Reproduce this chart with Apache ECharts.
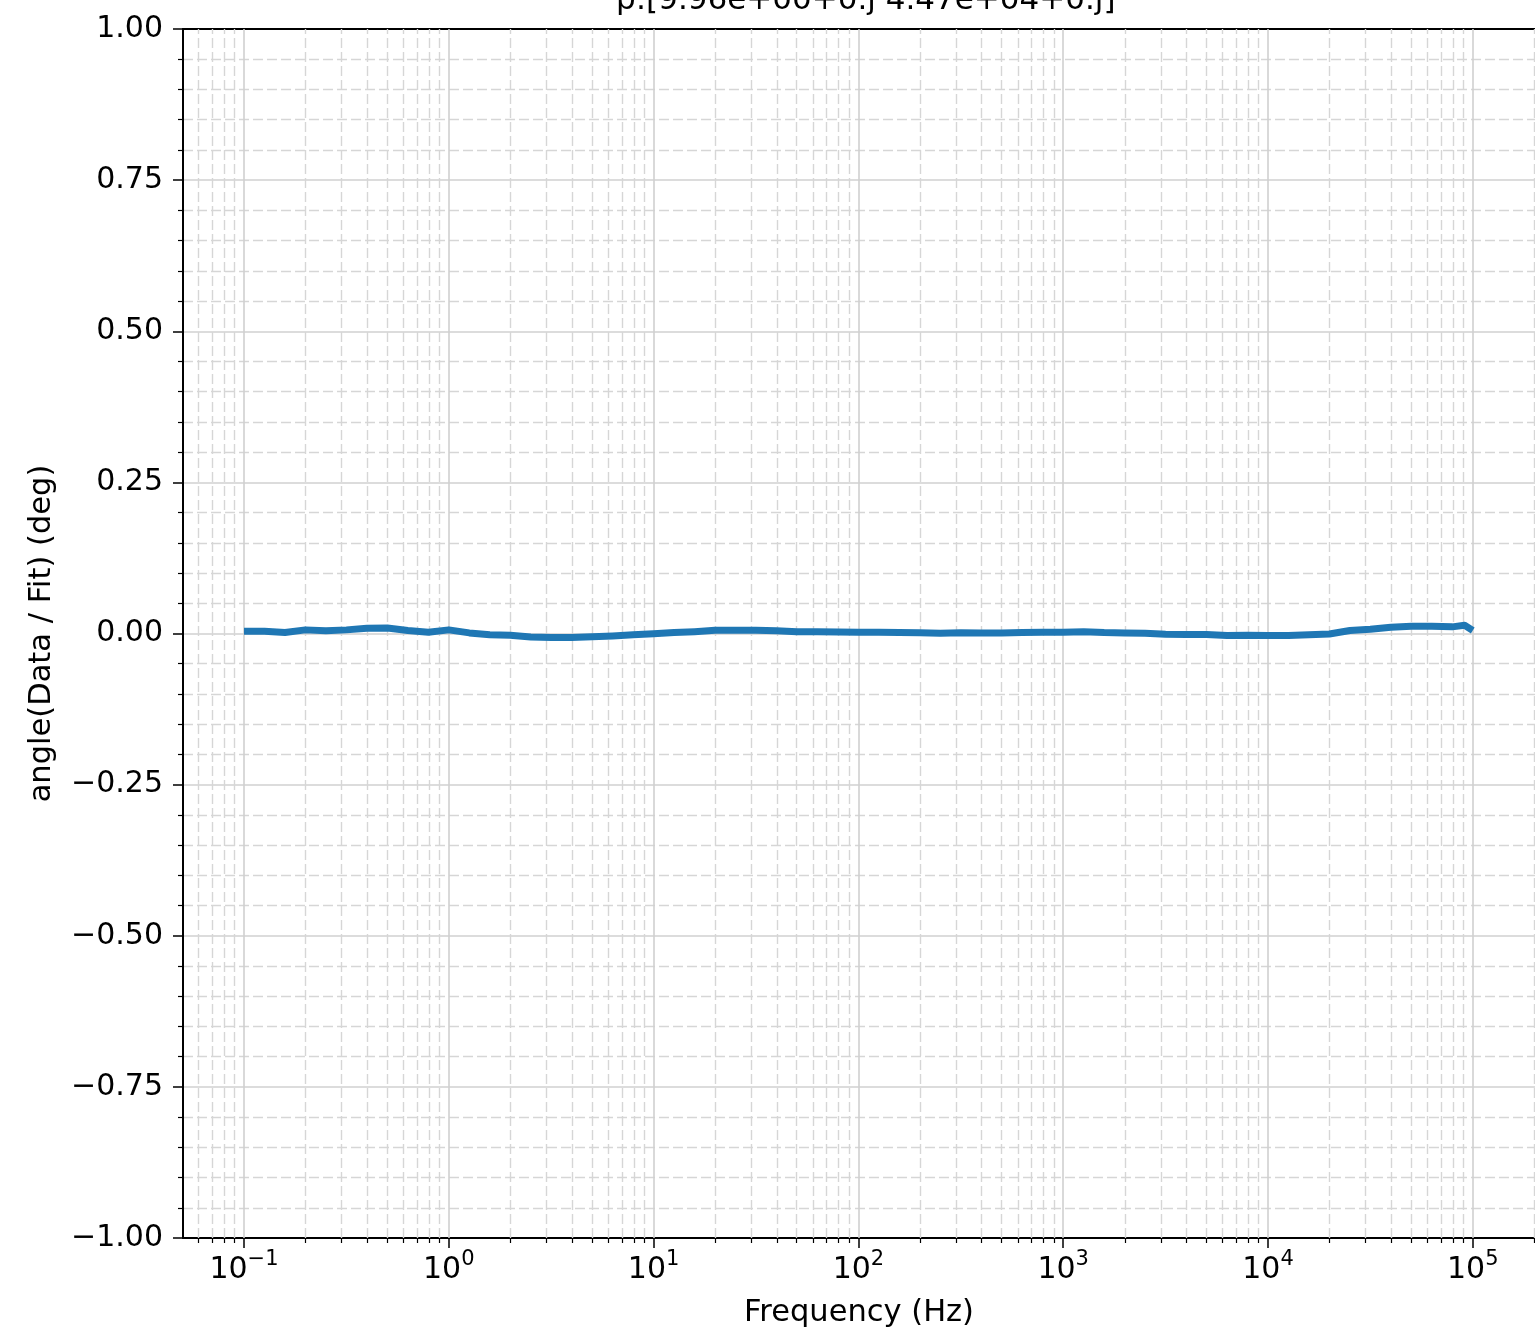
<!DOCTYPE html>
<html>
<head>
<meta charset="utf-8">
<script src="https://cdn.jsdelivr.net/npm/echarts@6/dist/echarts.min.js"></script>
<style>
html,body{margin:0;padding:0;background:#fff;}
#chart{width:1535px;height:1338px;}
</style>
</head>
<body>
<div id="chart"></div>
<script>
// ---- data ----
const freqs = [
  0.1, 0.1259, 0.1585, 0.1995, 0.2512, 0.3162, 0.3981, 0.5012, 0.631, 0.7943,
  1, 1.259, 1.585, 1.995, 2.512, 3.162, 3.981, 5.012, 6.31, 7.943,
  10, 12.59, 15.85, 19.95, 25.12, 31.62, 39.81, 50.12, 63.1, 79.43,
  100, 125.9, 158.5, 199.5, 251.2, 316.2, 398.1, 501.2, 631, 794.3,
  1000, 1259, 1585, 1995, 2512, 3162, 3981, 5012, 6310, 7943,
  10000, 12590, 15850, 19950, 25120, 31620, 39810, 50120, 63100, 79430,
  91200, 100000
];
const angleDeg = [
  0.0036, 0.0036, 0.0018, 0.006, 0.0045, 0.006, 0.0085, 0.009, 0.005, 0.002,
  0.006, 0.001, -0.002, -0.003, -0.0058, -0.0065, -0.0068, -0.0055, -0.004, -0.0022,
  -0.0003, 0.0015, 0.003, 0.0052, 0.0052, 0.0052, 0.0045, 0.003, 0.003, 0.0025,
  0.002, 0.0019, 0.0018, 0.0012, 0.0004, 0.0013, 0.0008, 0.001, 0.0015, 0.0019,
  0.0022, 0.003, 0.0015, 0.001, 0.0004, -0.0012, -0.0015, -0.0018, -0.0035, -0.003,
  -0.0035, -0.0032, -0.002, -0.0008, 0.005, 0.007, 0.0105, 0.012, 0.0119, 0.011,
  0.0135, 0.005
];
const xMajorTicks = [0.1, 1, 10, 100, 1000, 10000, 100000];
const xMinorTicks = [
  0.06, 0.07, 0.08, 0.09,
  0.2, 0.3, 0.4, 0.5, 0.6, 0.7, 0.8, 0.9,
  2, 3, 4, 5, 6, 7, 8, 9,
  20, 30, 40, 50, 60, 70, 80, 90,
  200, 300, 400, 500, 600, 700, 800, 900,
  2000, 3000, 4000, 5000, 6000, 7000, 8000, 9000,
  20000, 30000, 40000, 50000, 60000, 70000, 80000, 90000,
  200000
];
const xExponents = {0.1: '−1', 1: '0', 10: '1', 100: '2', 1000: '3', 10000: '4', 100000: '5'};
const titleText = 'p:[9.96e+00+0.j 4.47e+04+0.j]';
const xName = 'Frequency (Hz)';
const yName = 'angle(Data / Fit) (deg)';
const xMin = 0.05036, xMax = 201300;

// ---- chart ----
const FONT = 'DejaVu Sans';
const chart = echarts.init(document.getElementById('chart'), null, {renderer: 'canvas'});
const majorGrid = {color: '#d0d0d0', width: 1.6, type: 'solid'};
const minorGrid = {color: '#d6d6d6', width: 1.4, type: [10, 4]};
const gridLines = xMajorTicks.map(v => ({xAxis: v, lineStyle: majorGrid}))
  .concat(xMinorTicks.map(v => ({xAxis: v, lineStyle: minorGrid})));

chart.setOption({
  animation: false,
  backgroundColor: '#ffffff',
  title: {
    text: titleText,
    left: 611, top: -20,
    textStyle: {fontFamily: FONT, fontSize: 31, fontWeight: 'normal', color: '#000'}
  },
  grid: {left: 183, top: 29, right: 0, bottom: 100, containLabel: false},
  xAxis: [
    {
      type: 'log', logBase: 10, min: xMin, max: xMax, position: 'bottom',
      name: xName, nameLocation: 'middle', nameGap: 60,
      nameTextStyle: {fontFamily: FONT, fontSize: 30.5, color: '#000'},
      axisLine: {show: true, onZero: false, lineStyle: {color: '#000', width: 2}},
      axisTick: {show: true, length: 10, customValues: xMajorTicks, lineStyle: {color: '#000', width: 1.5}},
      axisLabel: {
        show: true, margin: 11, customValues: xMajorTicks,
        showMinLabel: true, showMaxLabel: true,
        formatter: function (v) {
          let key = null;
          for (const t of xMajorTicks) { if (Math.abs(Math.log10(v) - Math.log10(t)) < 1e-6) key = t; }
          if (key === null) return '';
          return '{b|10}{s|' + xExponents[key] + '}';
        },
        rich: {
          b: {fontFamily: FONT, fontSize: 30, color: '#000', lineHeight: 36, verticalAlign: 'bottom'},
          s: {fontFamily: FONT, fontSize: 21, color: '#000', lineHeight: 36, verticalAlign: 'top'}
        }
      },
      splitLine: {show: false},
      minorTick: {show: false},
      minorSplitLine: {show: false}
    },
    {
      type: 'log', logBase: 10, min: xMin, max: xMax, position: 'bottom',
      axisLine: {show: false, onZero: false},
      axisTick: {show: true, length: 5, customValues: xMinorTicks, lineStyle: {color: '#000', width: 1.2}},
      axisLabel: {show: false},
      splitLine: {show: false}
    },
    {
      type: 'log', logBase: 10, min: xMin, max: xMax, position: 'top',
      axisLine: {show: true, onZero: false, lineStyle: {color: '#000', width: 2}},
      axisTick: {show: false}, axisLabel: {show: false}, splitLine: {show: false}
    }
  ],
  yAxis: {
    type: 'value', min: -1, max: 1, interval: 0.25,
    name: yName, nameLocation: 'middle', nameGap: 125,
    nameTextStyle: {fontFamily: FONT, fontSize: 30.5, color: '#000'},
    axisLine: {show: true, onZero: false, lineStyle: {color: '#000', width: 2}},
    axisTick: {show: true, length: 10, lineStyle: {color: '#000', width: 1.5}},
    minorTick: {show: true, splitNumber: 5, length: 5, lineStyle: {color: '#000', width: 1.2}},
    axisLabel: {
      margin: 20, fontFamily: FONT, fontSize: 30, color: '#000',
      formatter: v => (v < 0 ? '−' : '') + Math.abs(v).toFixed(2)
    },
    splitLine: {show: true, lineStyle: majorGrid},
    minorSplitLine: {show: true, lineStyle: minorGrid}
  },
  series: [
    {
      type: 'line', xAxisIndex: 0, data: [], z: 1, silent: true,
      markLine: {silent: true, symbol: ['none', 'none'], label: {show: false}, z: 1,
        emphasis: {disabled: true}, data: gridLines}
    },
    {
      type: 'line', xAxisIndex: 0, z: 3,
      data: freqs.map((f, i) => [f, angleDeg[i]]),
      showSymbol: false, symbol: 'none',
      lineStyle: {color: '#1f77b4', width: 7, cap: 'butt', join: 'round'},
      itemStyle: {color: '#1f77b4'}
    }
  ]
});
</script>
</body>
</html>
